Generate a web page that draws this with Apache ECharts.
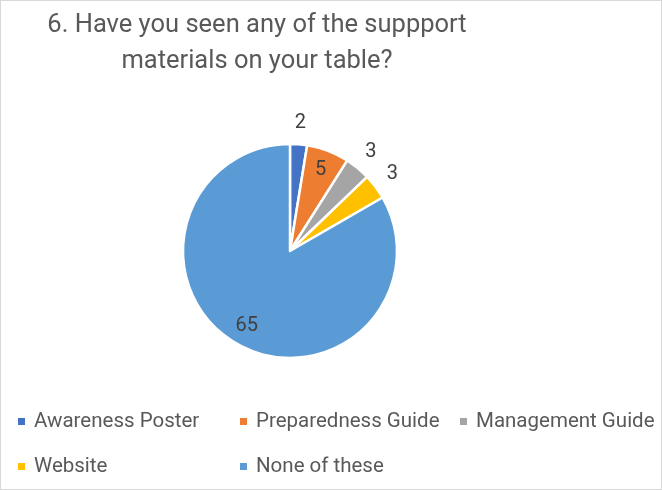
<!DOCTYPE html>
<html>
<head>
<meta charset="utf-8">
<script src="https://cdn.jsdelivr.net/npm/echarts@6/dist/echarts.min.js"></script>
<style>
  html, body { margin: 0; padding: 0; background: #fff; }
  #chart { width: 660px; height: 488px; border: 1px solid #d9d9d9; }
</style>
</head>
<body>
<div id="chart"></div>
<script>
// Survey answers: who has seen which support materials
const categories = ['Awareness Poster', 'Preparedness Guide', 'Management Guide', 'Website', 'None of these'];
const counts = [2, 5, 3, 3, 65];
const colors = ['#4472C4', '#ED7D31', '#A5A5A5', '#FFC000', '#5B9BD5'];
const titleText = '6. Have you seen any of the suppport\nmaterials on your table?';

// Values printed inside their slice; the rest sit just outside the rim
const insideLabels = new Set(['Preparedness Guide', 'None of these']);

const center = [289, 250];
const R = 107;
const font = 'Roboto, "Noto Sans", sans-serif';

const baseData = categories.map((name, i) => ({
  name,
  value: counts[i],
  itemStyle: { color: colors[i] }
}));

// Invisible rings that only carry the value labels at the wanted radius
function labelRing(radius, keep) {
  return {
    type: 'pie',
    center,
    radius,
    startAngle: 90,
    clockwise: true,
    silent: true,
    animation: false,
    legendHoverLink: false,
    avoidLabelOverlap: false,
    itemStyle: { color: 'transparent', borderWidth: 0 },
    emphasis: { disabled: true },
    labelLine: { show: false },
    label: {
      show: true,
      position: 'inside',
      color: '#404040',
      fontFamily: font,
      fontSize: 20,
      formatter: p => (keep(p.name) ? String(p.value) : '')
    },
    data: categories.map((name, i) => ({ name, value: counts[i], itemStyle: { color: 'transparent' } }))
  };
}

const columns = [15, 237, 457];
const rows = [410, 455];
const legends = categories.map((name, i) => ({
  data: [name],
  left: columns[i % 3],
  top: rows[Math.floor(i / 3)],
  padding: 0,
  icon: 'rect',
  itemWidth: 9,
  itemHeight: 9,
  itemGap: 0,
  selectedMode: false,
  textStyle: { color: '#595959', fontFamily: font, fontSize: 20.5, padding: [0, 0, 0, 3] }
}));

const chart = echarts.init(document.getElementById('chart'), null, { renderer: 'canvas' });
chart.setOption({
  animation: false,
  color: colors,
  title: {
    text: titleText,
    left: 251,
    top: 2,
    textAlign: 'center',
    textStyle: {
      color: '#595959',
      fontFamily: font,
      fontWeight: 'normal',
      fontSize: 25.5,
      lineHeight: 36,
      align: 'center'
    }
  },
  legend: legends,
  series: [
    {
      type: 'pie',
      center,
      radius: R,
      startAngle: 90,
      clockwise: true,
      animation: false,
      label: { show: false },
      labelLine: { show: false },
      itemStyle: { borderColor: '#ffffff', borderWidth: 2.5 },
      emphasis: { scale: false },
      data: baseData
    },
    labelRing([R * 0.56, R], n => insideLabels.has(n)),
    labelRing([R + 4, R + 32], n => !insideLabels.has(n))
  ]
});
</script>
</body>
</html>
